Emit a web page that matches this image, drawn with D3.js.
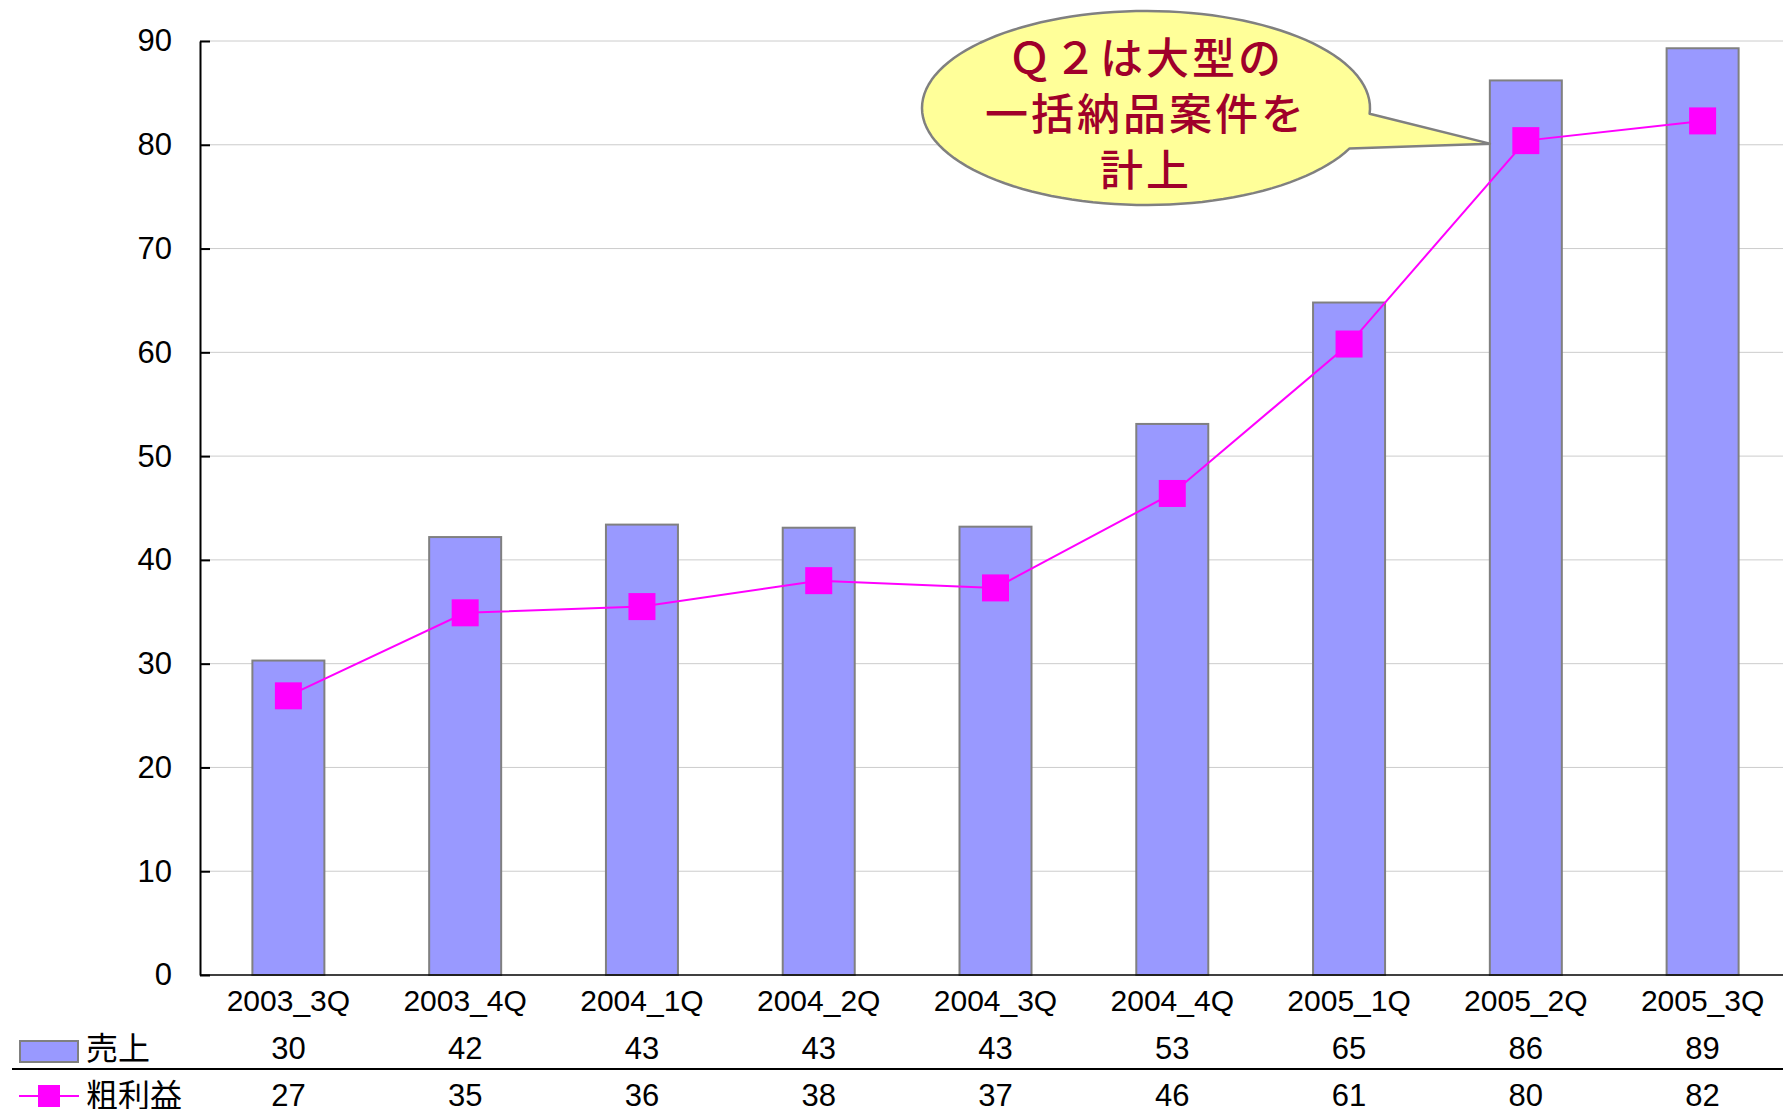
<!DOCTYPE html>
<html>
<head>
<meta charset="utf-8">
<script src="https://cdn.jsdelivr.net/npm/d3@7"></script>
<style>
  body { margin: 0; background: #fff; }
  svg { display: block; }
</style>
</head>
<body>
<div id="chart"></div>
<script>
// data
var quarters = ["2003_3Q", "2003_4Q", "2004_1Q", "2004_2Q", "2004_3Q", "2004_4Q", "2005_1Q", "2005_2Q", "2005_3Q"];
var sales = [30.3, 42.2, 43.4, 43.1, 43.2, 53.1, 64.8, 86.2, 89.3];
var profit = [26.9, 34.9, 35.5, 38.0, 37.3, 46.4, 60.8, 80.4, 82.3];
var seriesNames = ["売上", "粗利益"];
var yTicks = [0, 10, 20, 30, 40, 50, 60, 70, 80, 90];
var noteLines = ["Ｑ２は大型の", "一括納品案件を", "計上"];

var w = 1783, h = 1109;
var plotLeft = 200, plotRight = 1791, plotTop = 41, plotBottom = 975;
var barW = 72;
var latin = "'Liberation Sans', Arial, sans-serif";
var cjk = "'Noto Sans CJK JP', 'Noto Sans CJK SC', sans-serif";

var svg = d3.select("#chart").append("svg")
  .attr("width", w)
  .attr("height", h);

var x = d3.scalePoint()
  .domain(quarters)
  .range([plotLeft, plotRight])
  .padding(0.5);

var y = d3.scaleLinear()
  .domain([0, 90])
  .range([plotBottom, plotTop]);

// gridlines
svg.append("g").selectAll("line")
  .data(yTicks.slice(1))
  .enter()
  .append("line")
  .attr("x1", plotLeft)
  .attr("x2", w)
  .attr("y1", function(d) { return y(d); })
  .attr("y2", function(d) { return y(d); })
  .attr("stroke", "#cccccc")
  .attr("stroke-width", 1);

// bars
svg.append("g").selectAll("rect")
  .data(sales)
  .enter()
  .append("rect")
  .attr("x", function(d, i) { return x(quarters[i]) - barW / 2; })
  .attr("y", function(d) { return y(d); })
  .attr("width", barW)
  .attr("height", function(d) { return y(0) - y(d); })
  .attr("fill", "#9999ff")
  .attr("stroke", "#808080")
  .attr("stroke-width", 2);

// x baseline
svg.append("line")
  .attr("x1", plotLeft)
  .attr("x2", w)
  .attr("y1", y(0))
  .attr("y2", y(0))
  .attr("stroke", "#000")
  .attr("stroke-width", 1.5);

// y axis
var yAxis = svg.append("g")
  .attr("transform", "translate(" + plotLeft + ",0)")
  .call(d3.axisLeft(y).tickValues(yTicks).tickSizeInner(-10).tickSizeOuter(0).tickPadding(28));
yAxis.select(".domain").attr("stroke", "#000").attr("stroke-width", 2);
yAxis.selectAll(".tick line").attr("stroke", "#000").attr("stroke-width", 2);
yAxis.selectAll(".tick text")
  .attr("font-family", latin)
  .attr("font-size", "31px")
  .attr("fill", "#000");

// x labels
svg.append("g").selectAll("text")
  .data(quarters)
  .enter()
  .append("text")
  .attr("x", function(d) { return x(d); })
  .attr("y", 1011)
  .attr("text-anchor", "middle")
  .attr("font-family", latin)
  .attr("font-size", "30px")
  .text(function(d) { return d; });

// profit line
var line = d3.line()
  .x(function(d, i) { return x(quarters[i]); })
  .y(function(d) { return y(d); });

svg.append("path")
  .attr("d", line(profit))
  .attr("fill", "none")
  .attr("stroke", "#ff00ff")
  .attr("stroke-width", 2);

svg.append("g").selectAll("rect")
  .data(profit)
  .enter()
  .append("rect")
  .attr("x", function(d, i) { return x(quarters[i]) - 13.5; })
  .attr("y", function(d) { return y(d) - 13.5; })
  .attr("width", 27)
  .attr("height", 27)
  .attr("fill", "#ff00ff");

// callout bubble, tail points at the 2005_2Q profit point
var tipX = x("2005_2Q") - barW / 2, tipY = y(profit[7]) + 3;
var cx = 1146, cy = 108, rx = 224, ry = 97;
var a1 = 0.06, a2 = 0.43;
var arc = d3.path();
arc.moveTo(cx + rx * Math.cos(a2), cy + ry * Math.sin(a2));
var steps = 120;
for (var k = 1; k <= steps; k++) {
  var t = a2 + (2 * Math.PI - (a2 - a1)) * k / steps;
  arc.lineTo(cx + rx * Math.cos(t), cy + ry * Math.sin(t));
}
arc.lineTo(tipX, tipY);
arc.closePath();

svg.append("path")
  .attr("d", arc.toString())
  .attr("fill", "#ffff99")
  .attr("stroke", "#808080")
  .attr("stroke-width", 2.5)
  .attr("stroke-linejoin", "round");

svg.append("g").selectAll("text")
  .data(noteLines)
  .enter()
  .append("text")
  .attr("x", cx)
  .attr("y", function(d, i) { return 74 + i * 56; })
  .attr("text-anchor", "middle")
  .attr("font-family", cjk)
  .attr("font-size", "43px")
  .attr("font-weight", 500)
  .attr("letter-spacing", "3px")
  .attr("fill", "#a0002a")
  .text(function(d) { return d; });

// data table
svg.append("line")
  .attr("x1", 12)
  .attr("x2", w)
  .attr("y1", 1069)
  .attr("y2", 1069)
  .attr("stroke", "#000")
  .attr("stroke-width", 2);

svg.append("rect")
  .attr("x", 20)
  .attr("y", 1041)
  .attr("width", 58)
  .attr("height", 21)
  .attr("fill", "#9999ff")
  .attr("stroke", "#808080")
  .attr("stroke-width", 2);

svg.append("line")
  .attr("x1", 19)
  .attr("x2", 79)
  .attr("y1", 1096)
  .attr("y2", 1096)
  .attr("stroke", "#ff00ff")
  .attr("stroke-width", 2);

svg.append("rect")
  .attr("x", 38)
  .attr("y", 1085)
  .attr("width", 22)
  .attr("height", 22)
  .attr("fill", "#ff00ff");

svg.append("g").selectAll("text")
  .data(seriesNames)
  .enter()
  .append("text")
  .attr("x", 86)
  .attr("y", function(d, i) { return 1060 + i * 47; })
  .attr("font-family", cjk)
  .attr("font-size", "32px")
  .text(function(d) { return d; });

var rows = [sales, profit];
rows.forEach(function(vals, r) {
  svg.append("g").selectAll("text")
    .data(vals)
    .enter()
    .append("text")
    .attr("x", function(d, i) { return x(quarters[i]); })
    .attr("y", 1059 + r * 47)
    .attr("text-anchor", "middle")
    .attr("font-family", latin)
    .attr("font-size", "31px")
    .text(function(d) { return Math.round(d); });
});
</script>
</body>
</html>
